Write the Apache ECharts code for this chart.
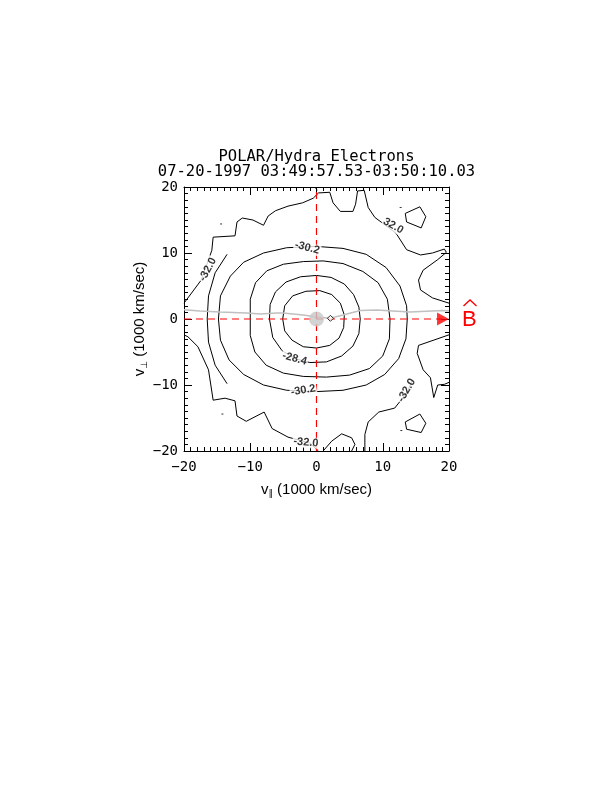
<!DOCTYPE html>
<html><head><meta charset="utf-8">
<script src="https://cdn.jsdelivr.net/npm/echarts@6/dist/echarts.min.js"></script>
<style>html,body{margin:0;padding:0;background:#fff}#c{width:612px;height:792px}</style>
</head><body><div id="c"></div>
<script>
var titleLines = ['POLAR/Hydra Electrons', '07-20-1997 03:49:57.53-03:50:10.03'];
var xTicks = [-20, -10, 0, 10, 20];
var yTicks = [-20, -10, 0, 10, 20];
// contour lines, [v_par, v_perp] in 1000 km/s
var c1 = [[-5.1,0],[-4.8,2.0],[-3.6,3.5],[-1.6,4.2],[0.5,4.3],[2.3,3.7],[3.6,2.4],[4.2,0.6],[4.1,-1.3],[3.4,-2.9],[2.0,-4.0],[0,-4.4],[-2,-4.2],[-3.7,-3.2],[-4.8,-1.8],[-5.1,0]];
var c2 = [[-7.1,0],[-7.0,2.2],[-6.2,4.1],[-4.6,5.6],[-2.4,6.4],[0,6.6],[2.2,6.3],[4.2,5.3],[5.6,3.7],[6.4,1.8],[6.6,0],[6.4,-2.2],[5.5,-4.1],[3.8,-5.6],[1.5,-6.5],[-1,-6.6],[-3.2,-6.0],[-5.2,-4.8],[-6.6,-2.8],[-7.1,0]];
var c3 = [[-10,0],[-10,3],[-9.2,5.5],[-7.5,7.3],[-5,8.3],[-2,8.7],[1,8.8],[4,8.4],[7,7.2],[9.3,5.5],[10.7,3],[11.1,0],[11,-3],[10,-5.6],[8,-7.5],[5,-8.5],[1.5,-8.8],[-2,-8.7],[-5,-8.2],[-7.6,-7],[-9.3,-5],[-10,-2.5],[-10,0]];
var c4 = [[-14.8,0],[-14.5,3.5],[-13,6.5],[-11,8.6],[-8,10],[-4.5,10.8],[0,11],[4,10.7],[7.5,9.8],[10.5,7.8],[12.6,5],[13.6,2],[13.7,0],[13.5,-3],[12.4,-6],[10.3,-8.4],[7.5,-10],[4,-10.8],[0,-11],[-4.5,-10.8],[-8,-10],[-11,-8.4],[-13.2,-6.2],[-14.5,-3.2],[-14.8,0]];
var c5 = [[-13.5,9.8],[-15.3,7],[-16.3,3.5],[-16.5,0],[-16.3,-3.5],[-15.3,-7],[-13.5,-9.8]];
var c6a = [[-20,2.4],[-17.4,5.9],[-15.8,10.4],[-15.6,12.4],[-12.3,12.6],[-12,14.7],[-11.2,15.3],[-9.6,15],[-8,14.2],[-7.3,15.6],[-6.2,16.4],[-4.3,17.1],[-2.1,17.6],[-0.5,18.3],[0.3,19.1],[2,19.2],[2.5,17.6],[3.6,16.3],[5.5,16.3],[5.9,17.4],[6.2,19.4],[7.2,19.5],[7.8,16.9],[8.8,15.4],[12,13],[13.6,10.5],[15.7,9.7],[17.5,10.0],[19.3,10.6],[19.6,10.1],[18.3,9.0],[16.1,7.4],[15.4,5.9],[15.7,4.4],[17.5,3.2],[20,2.4]];
var c6b = [[20,-2.4],[15.4,-4.0],[15.2,-5.2],[16.1,-7.7],[17.2,-8.9],[17.7,-11.9],[18.3,-10.0],[19.3,-9.9],[20,-9.6]];
var c6c = [[14.4,-9.4],[13.7,-11.1],[11.8,-13.5],[9.4,-14.1],[7.8,-15.6],[7.3,-17.5],[7.3,-20]];
var c6d = [[-20,-2.4],[-19.4,-2.7],[-17.9,-4.2],[-16.3,-7.7],[-15.6,-12.3],[-13.8,-12.0],[-12.3,-12.4],[-12.0,-14.7],[-10.6,-15.5],[-7.9,-14.1],[-6.7,-16.6],[-4.3,-17.9],[-1.0,-18.8],[0.3,-20]];
var c6e = [[1.0,-20],[2.3,-18.5],[3.8,-17.4],[5.3,-18.0],[5.8,-19.0],[5.3,-20]];
var c6f = [[-0.2,20],[0.1,19.5]];
var loops = [[[13.4,16.0],[15.6,17.0],[16.5,15.5],[15.8,13.8],[13.6,14.7],[13.4,16.0]], [[13.4,-15.6],[15.6,-14.4],[16.5,-15.8],[15.8,-17.2],[13.6,-16.7],[13.4,-15.6]]];
var specks = [[-14.4,14.4],[-14.2,-14.4],[12.7,16.9],[12.8,-16.9]];
var contourLabels = [
  {t:'-32.0', x:-16.4, y:7.5, r:62},
  {t:'-30.2', x:-1.4, y:10.8, r:-15},
  {t:'-28.4', x:-3.3, y:-6.0, r:-15},
  {t:'-30.2', x:-2.0, y:-10.8, r:10},
  {t:'-32.0', x:-1.6, y:-18.7, r:-5},
  {t:'32.0', x:11.6, y:14.1, r:-30},
  {t:'-32.0', x:13.6, y:-10.8, r:60}
];
var grayLine = [[-20,1.4],[-17.6,1.2],[-14.6,1.05],[-10.5,0.9],[-8.5,0.75],[-6,0.9],[-5.1,0.9],[-2,0.6],[0,0.3],[1.6,0.15],[2.8,0.3],[4.6,0.75],[6.6,1.3],[9.1,1.35],[11.5,1.2],[14.1,1.05],[19.1,1.3],[20,1.2]];
var bAxisLine = [[-20,0],[19,0]];
var perpAxisLine = [[0,-20],[0,20]];
var arrowTip = [[19.1,0]];
var origin = [[0,0]];
var diamondPt = [[2.1,0.1]];

var chart = echarts.init(document.getElementById('c'), null, {renderer:'canvas'});
var mono = 'DejaVu Sans Mono';
function axisCommon(pos, labels){
  return {
    type:'value', min:-20, max:20, interval:10, position:pos,
    axisLine:{show:true, onZero:false, lineStyle:{color:'#000', width:1}},
    axisTick:{show:true, inside:true, length:8, lineStyle:{color:'#000', width:1}},
    minorTick:{show:true, splitNumber:10, length:4, lineStyle:{color:'#000', width:1}},
    splitLine:{show:false},
    axisLabel:{show:labels, color:'#000', fontFamily:mono, fontSize:14,
      formatter:function(v){return v<0 ? '\u2212'+Math.abs(v) : String(v);}}
  };
}
var richName = {v:{fontFamily:'Liberation Sans', fontSize:15, color:'#000'}, s:{fontFamily:'DejaVu Sans', fontSize:9, color:'#000', padding:[8,0,0,0]}};
var xb = axisCommon('bottom', true);
xb.axisLabel.margin = 9;
xb.name = '{v|v}{s|\u2225}{v| (1000 km/sec)}';
xb.nameLocation = 'middle'; xb.nameGap = 30;
xb.nameTextStyle = {color:'#000', fontFamily:'Liberation Sans', fontSize:15, rich:richName};
var xt = axisCommon('top', false);
var yl = axisCommon('left', true);
yl.axisLabel.margin = 6;
yl.name = '{v|v}{s|\u22A5}{v| (1000 km/sec)}';
yl.nameLocation = 'middle'; yl.nameGap = 32;
yl.nameTextStyle = {color:'#000', fontFamily:'Liberation Sans', fontSize:15, rich:richName};
var yr = axisCommon('right', false);

function lineSeries(data, color, width, type, z){
  return {type:'line', data:data, showSymbol:false, symbol:'none', silent:true, animation:false,
    lineStyle:{color:color, width:width, type:type||'solid'}, z:z||2, clip:true};
}
var series = [];
[c6a,c6b,c6c,c6d,c6e,c6f,c5,c4,c3,c2,c1].forEach(function(c){ series.push(lineSeries(c,'#000',1,'solid',3)); });
loops.forEach(function(c){ series.push(lineSeries(c,'#000',1,'solid',3)); });
series.push(lineSeries(grayLine,'#c0c0c0',1.5,'solid',4));
series.push(lineSeries(bAxisLine,'#ff0000',1.2,[7,5],5));
series.push(lineSeries(perpAxisLine,'#ff0000',1.2,[7,5],5));
series.push({type:'scatter', data:specks, symbol:'rect', symbolSize:[2,1], itemStyle:{color:'#000'}, silent:true, animation:false, z:3});
series.push({type:'scatter', data:origin, symbol:'circle', symbolSize:15, itemStyle:{color:'#c8c8c8'}, silent:true, animation:false, z:6});
series.push({type:'scatter', data:diamondPt, symbol:'diamond', symbolSize:6, itemStyle:{color:'#fff', borderColor:'#000', borderWidth:1}, silent:true, animation:false, z:6});
series.push({type:'scatter', data:arrowTip, symbol:'triangle', symbolRotate:-90, symbolSize:[13,12], itemStyle:{color:'#ff0000'}, silent:true, animation:false, z:7});
series.push({type:'scatter', silent:true, animation:false, z:8, symbolSize:0,
  data:contourLabels.map(function(l){return {value:[l.x,l.y], label:{formatter:l.t, rotate:l.r}};}),
  label:{show:true, position:'inside', color:'#000', fontFamily:'Liberation Sans', fontSize:11, fontWeight:'bold', backgroundColor:'#fff', padding:[0,1]}});

chart.setOption({
  animation:false,
  backgroundColor:'#fff',
  grid:{left:184, top:187, width:265, height:264, containLabel:false},
  xAxis:[xb, xt],
  yAxis:[yl, yr],
  series:series,
  graphic:[
    {type:'text', x:316.5, y:157, style:{text:titleLines[0], fill:'#000', font:'15.5px "DejaVu Sans Mono"', textAlign:'center', textVerticalAlign:'middle'}},
    {type:'text', x:316.5, y:172, style:{text:titleLines[1], fill:'#000', font:'15.5px "DejaVu Sans Mono"', textAlign:'center', textVerticalAlign:'middle'}},
    {type:'text', x:462, y:319.5, style:{text:'B', fill:'#ff0000', font:'22px "Liberation Sans"', textVerticalAlign:'middle'}},
    {type:'polyline', shape:{points:[[463.5,306],[470,300],[476.5,306]]}, style:{stroke:'#ff0000', lineWidth:1.3, fill:null}}
  ]
});
</script></body></html>
